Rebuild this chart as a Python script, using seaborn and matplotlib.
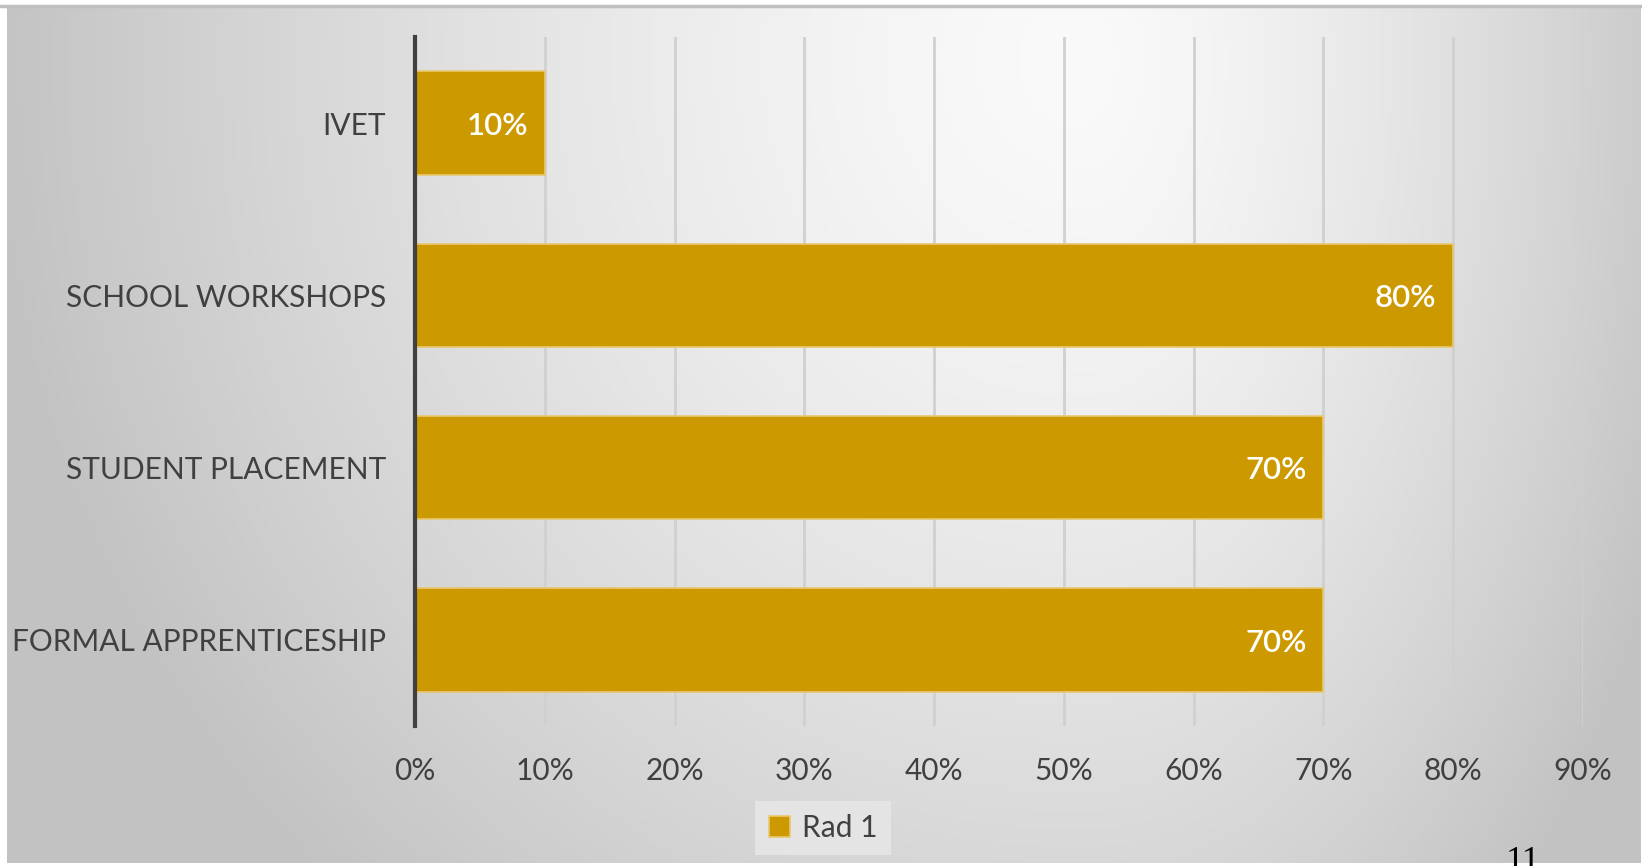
import numpy as np
import pandas as pd
import matplotlib
matplotlib.use("Agg")
import matplotlib.pyplot as plt
import seaborn as sns
from matplotlib.lines import Line2D

categories = ["IVET", "SCHOOL WORKSHOPS", "STUDENT PLACEMENT", "FORMAL APPRENTICESHIP"]
values = [0.10, 0.80, 0.70, 0.70]
series_name = "Rad 1"
tick_values = [0.0, 0.1, 0.2, 0.3, 0.4, 0.5, 0.6, 0.7, 0.8, 0.9]
tick_labels = ["0%", "10%", "20%", "30%", "40%", "50%", "60%", "70%", "80%", "90%"]
page_number = "11"

sns.set_theme(style="white")
plt.rcParams['font.family'] = ['Lato', 'DejaVu Sans']

W, H = 1642, 866
fig = plt.figure(figsize=(W / 100, H / 100), dpi=100)
fig.patch.set_facecolor("white")

# background panel with radial gradient
bg = fig.add_axes([7 / W, 1 - 863 / H, (1640 - 7) / W, (863 - 6) / H])
bg.set_axis_off()
nx, ny = 400, 220
xs = np.linspace(7, 1640, nx)
ys = np.linspace(6, 863, ny)
X, Y = np.meshgrid(xs, ys)
cx, cy = 1080.0, 60.0
rx = np.where(X < cx, 1100.0, 650.0)
ry = 1150.0
d = np.sqrt(((X - cx) / rx) ** 2 + ((Y - cy) / ry) ** 2)
val = 250 - (250 - 194) * np.clip(d, 0, 1) ** 1.4
img = np.dstack([val, val, val]) / 255.0
bg.imshow(img, aspect="auto", extent=[0, 1, 0, 1], origin="upper")
# top border line
fig.add_artist(Line2D([0, 1], [1 - 6 / H, 1 - 6 / H], color="#bfbfbf", lw=2.5, transform=fig.transFigure))

ax = fig.add_axes([415 / W, 1 - 726 / H, (1583 - 415) / W, (726 - 37) / H])
ax.set_facecolor("none")

df = pd.DataFrame({"category": categories, "value": values})
bar_color = "#CC9900"
sns.barplot(data=df, x="value", y="category", orient="h", color=bar_color,
            width=0.6, saturation=1, ax=ax, label=series_name,
            edgecolor="#e8c870", linewidth=1.2, zorder=3)

ax.set_xlim(0, 0.9)
ax.set_ylim(3.5, -0.5)
ax.set_xticks(tick_values)
ax.set_xticklabels(tick_labels)
ax.set_xlabel("")
ax.set_ylabel("")
for s in ["top", "right", "bottom"]:
    ax.spines[s].set_visible(False)
ax.spines["left"].set_color("#404040")
ax.spines["left"].set_linewidth(3)
ax.spines["left"].set_zorder(5)
ax.grid(axis="x", color="#d0d0d0", lw=2, zorder=0)
ax.grid(axis="y", visible=False)
ax.tick_params(axis="both", length=0, labelsize=21.5, labelcolor="#404040")
ax.tick_params(axis="x", pad=22)
ax.tick_params(axis="y", pad=21)

for i, v in enumerate(values):
    ax.annotate(f"{int(round(v * 100))}%", xy=(v, i), xytext=(-12, -2),
                textcoords="offset points", ha="right", va="center",
                color="white", fontsize=22.5, fontweight="semibold", zorder=6)

leg = ax.legend(loc="center", bbox_to_anchor=(823 / W, 1 - 828 / H),
                bbox_transform=fig.transFigure, frameon=True, fontsize=21.5,
                handlelength=0.7, handleheight=0.7, handletextpad=0.4,
                borderpad=0.45, fancybox=False)
leg.get_frame().set_facecolor("#e4e4e4")
leg.get_frame().set_edgecolor("none")
leg.get_frame().set_alpha(1)
for t in leg.get_texts():
    t.set_color("#404040")

fig.text(1523 / W, 1 - 846 / H, page_number, ha="center", va="top",
         fontsize=26, color="black", family=["Liberation Serif", "DejaVu Serif"])

fig.savefig("out.png", dpi=100)
